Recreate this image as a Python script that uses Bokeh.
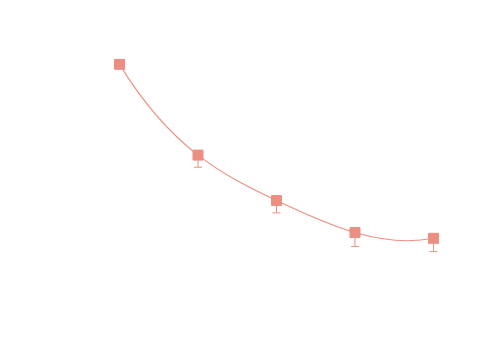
import numpy as np
from bokeh.plotting import figure
from bokeh.models import ColumnDataSource, Whisker, TeeHead, Range1d
from bokeh.embed import file_html
from bokeh.resources import INLINE

# data
steps = [1, 2, 3, 4, 5]
values = [0.92, 0.62, 0.47, 0.364, 0.345]
errors = [0.0, 0.040, 0.041, 0.046, 0.044]

COLOR = "#EC8F82"

p = figure(width=484, height=344, output_backend="svg", toolbar_location=None,
           x_range=Range1d(-0.516, 5.650), y_range=Range1d(-0.006, 1.131),
           min_border=0)
p.axis.visible = False
p.grid.visible = False
p.outline_line_color = None

# not-a-knot cubic spline through the points, drawn as bezier segments
x = np.array(steps, dtype=float)
y = np.array(values, dtype=float)
n = len(x)
h = np.diff(x)
s = np.diff(y) / h
A = np.zeros((n, n))
b = np.zeros(n)
A[0, 0], A[0, 1], A[0, 2] = h[1], -(h[0] + h[1]), h[0]
A[-1, -3], A[-1, -2], A[-1, -1] = h[-1], -(h[-2] + h[-1]), h[-2]
for i in range(1, n - 1):
    A[i, i - 1] = h[i - 1]
    A[i, i] = 2 * (h[i - 1] + h[i])
    A[i, i + 1] = h[i]
    b[i] = 6 * (s[i] - s[i - 1])
M = np.linalg.solve(A, b)
d0 = s - h * (2 * M[:-1] + M[1:]) / 6
d1 = s + h * (M[:-1] + 2 * M[1:]) / 6
bez = ColumnDataSource(dict(
    x0=x[:-1], y0=y[:-1], x1=x[1:], y1=y[1:],
    cx0=x[:-1] + h / 3, cy0=y[:-1] + d0 * h / 3,
    cx1=x[1:] - h / 3, cy1=y[1:] - d1 * h / 3,
))
p.bezier(x0="x0", y0="y0", x1="x1", y1="y1", cx0="cx0", cy0="cy0",
         cx1="cx1", cy1="cy1", source=bez, line_color=COLOR, line_width=1.1)

src = ColumnDataSource(dict(x=steps, y=values,
                            lower=[v - e for v, e in zip(values, errors)],
                            upper=values))
w = Whisker(base="x", lower="lower", upper="upper", source=src,
            line_color=COLOR, line_width=1,
            lower_head=TeeHead(size=8, line_color=COLOR, line_width=1),
            upper_head=None)
p.add_layout(w)

p.scatter("x", "y", source=src, marker="square", size=10,
          fill_color=COLOR, line_color=COLOR)

open("out.html", "w").write(file_html(p, INLINE))
